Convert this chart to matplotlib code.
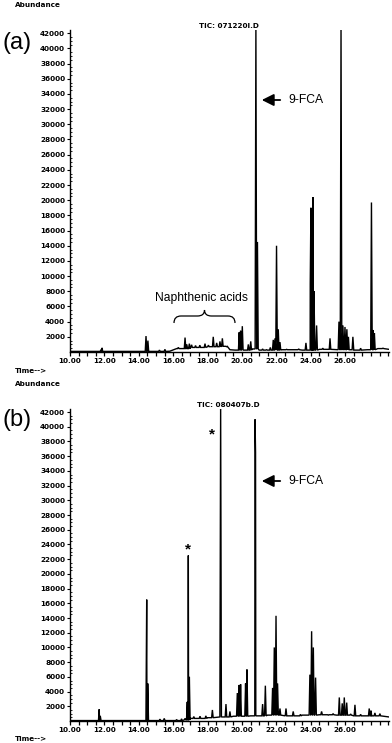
import numpy as np
import matplotlib
matplotlib.use("Agg")
import matplotlib.pyplot as plt
from matplotlib.path import Path
from matplotlib.patches import PathPatch, FancyArrowPatch

W, H = 392, 743

# ---------------- data ----------------
x_ticks = [10, 12, 14, 16, 18, 20, 22, 24, 26]
x_tick_labels = ["10.00", "12.00", "14.00", "16.00", "18.00", "20.00", "22.00", "24.00", "26.00"]
y_ticks = list(range(2000, 42001, 2000))
y_tick_labels = [str(v) for v in y_ticks]
x_min, x_max = 10.0, 28.55
y_max = 42400

# panel (a): peak apex times (min) and abundances
peaks_a_t = [11.80, 11.86, 14.42, 14.53, 15.20, 15.52,
             16.30, 16.69, 16.79, 16.94, 17.07, 17.30, 17.55, 17.85, 18.05, 18.33, 18.53,
             18.72, 18.86, 19.10, 19.84, 19.92, 20.02, 20.37, 20.51, 20.81, 20.90,
             21.20, 21.43, 21.65, 21.82, 21.92, 22.01, 22.11, 22.21, 22.60, 23.00, 23.30,
             23.72, 23.97, 24.01, 24.07, 24.13, 24.19, 24.34, 24.70, 25.12, 25.64, 25.76,
             25.87, 25.99, 26.10, 26.19, 26.45, 26.90, 27.53, 27.62, 27.70, 28.20]
peaks_a_h = [300, 550, 2100, 1500, 250, 350,
             600, 1900, 1000, 1100, 950, 850, 900, 1100, 900, 2000, 1200,
             1400, 1800, 700, 2600, 2800, 3400, 1000, 1400, 43000, 14500,
             400, 300, 600, 1600, 1800, 14000, 3000, 1300, 350, 300, 400,
             1200, 9000, 19000, 15000, 20400, 8000, 3500, 500, 1800, 4000, 43000,
             3500, 3300, 3000, 2000, 2000, 500, 19700, 2900, 2500, 500]
base_a_t = [10.0, 15.8, 16.2, 17.0, 18.0, 18.8, 19.3, 19.6, 20.6, 21.0, 22.3, 23.5,
            24.5, 25.5, 26.5, 27.3, 27.9, 28.55]
base_a_h = [80, 100, 450, 600, 700, 750, 300, 250, 400, 250, 300, 250,
            350, 300, 250, 300, 450, 350]

# panel (b)
peaks_b_t = [11.70, 11.76, 14.46, 14.52, 15.23, 15.48, 16.20, 16.49, 16.69, 16.82, 16.88, 16.94,
             17.20, 17.56, 17.90, 18.28, 18.76, 19.07, 19.30, 19.73, 19.84, 19.92,
             20.21, 20.29, 20.76, 20.79, 21.20, 21.36, 21.53, 21.67, 21.78, 21.88, 21.98,
             22.07, 22.21, 22.56, 22.98, 23.40, 23.95, 24.05, 24.15, 24.28, 24.63, 25.02,
             25.30, 25.66, 25.83, 25.95, 26.09, 26.32, 26.57, 26.90, 27.40, 27.50, 27.73, 28.02]
peaks_b_h = [1600, 700, 16500, 5100, 250, 350, 200, 300, 350, 2600, 22500, 6000,
             600, 650, 700, 1500, 43000, 2300, 1300, 3800, 4900, 5000,
             5100, 7000, 41000, 36500, 2300, 4800, 800, 800, 4500, 10000, 14300,
             5100, 1700, 1700, 1300, 900, 6300, 12200, 10000, 5900, 1300, 800,
             1000, 3200, 2400, 3200, 2500, 950, 2200, 900, 1700, 1400, 1100, 1000]
base_b_t = [10.0, 16.5, 17.0, 18.0, 18.7, 19.5, 20.5, 21.5, 22.5, 23.5, 24.5, 25.5,
            26.5, 27.5, 28.55]
base_b_h = [60, 150, 350, 450, 550, 650, 700, 800, 700, 800, 850, 800,
            700, 700, 550]


def build_trace(bt, bh, pt, ph, w=0.045):
    pts = list(zip(bt, bh))
    for t, h in zip(pt, ph):
        idx = max(i for i, k in enumerate(bt) if k <= t)
        b = bh[idx]
        pts += [(t - w, b), (t, h), (t + w, b)]
    pts.sort(key=lambda p: p[0])
    return [p[0] for p in pts], [p[1] for p in pts]


def fx(x):
    return x / W


def fy(y):
    return 1 - y / H


fig = plt.figure(figsize=(W / 100, H / 100), dpi=100)
fig.patch.set_facecolor("white")

tick_font = dict(family="DejaVu Sans", fontsize=5.2, fontweight="bold")
label_font = "Liberation Sans"


def style_axes(ax):
    ax.set_xlim(x_min, x_max)
    ax.set_ylim(0, y_max)
    for s in ["top", "right"]:
        ax.spines[s].set_visible(False)
    ax.spines["left"].set_linewidth(1.0)
    ax.spines["bottom"].set_linewidth(1.0)
    ax.set_xticks(x_ticks)
    ax.set_xticklabels(x_tick_labels, **tick_font)
    ax.set_xticks(np.arange(10, 28.51, 0.5), minor=True)
    ax.set_yticks(y_ticks)
    ax.set_yticklabels(y_tick_labels, **tick_font)
    ax.set_yticks(np.arange(0, 42001, 500), minor=True)
    ax.tick_params(axis="x", which="both", direction="out", length=3, width=0.9, pad=1.5)
    ax.tick_params(axis="y", which="major", direction="out", length=2.5, width=0.8, pad=1)
    ax.tick_params(axis="y", which="minor", direction="in", length=1.2, width=0.6)
    ax.patch.set_alpha(0)


panels = [
    dict(bottom=352, top=352 - y_max * 7.59e-3, bt=base_a_t, bh=base_a_h, pt=peaks_a_t, ph=peaks_a_h,
         label="(a)", label_y=43, abund_y=5, time_y=371, tic="TIC: 071220I.D", tic_y=25.5, arrow_y=100),
    dict(bottom=721, top=721 - y_max * 7.357e-3, bt=base_b_t, bh=base_b_h, pt=peaks_b_t, ph=peaks_b_h,
         label="(b)", label_y=420, abund_y=384, time_y=739, tic="TIC: 080407b.D", tic_y=405, arrow_y=481),
]

axes = []
for p in panels:
    ax = fig.add_axes([fx(70), fy(p["bottom"]), fx(389) - fx(70), fy(p["top"]) - fy(p["bottom"])])
    style_axes(ax)
    tx, ty = build_trace(p["bt"], p["bh"], p["pt"], p["ph"])
    ax.plot(tx, ty, color="black", lw=1.0, solid_joinstyle="miter")
    axes.append(ax)

    fig.text(fx(15), fy(p["abund_y"]), "Abundance", ha="left", va="center", **tick_font)
    fig.text(fx(15), fy(p["time_y"]), "Time-->", ha="left", va="center", **tick_font)
    fig.text(fx(2), fy(p["label_y"]), p["label"], ha="left", va="center",
             family=label_font, fontsize=17)
    fig.text(fx(228.5), fy(p["tic_y"]), p["tic"], ha="center", va="center", **tick_font)

    # 9-FCA arrow
    fig.add_artist(FancyArrowPatch(
        (fx(283), fy(p["arrow_y"])), (fx(259), fy(p["arrow_y"])),
        transform=fig.transFigure, arrowstyle="-|>,head_length=0.6,head_width=0.3",
        mutation_scale=12, color="black", lw=1.3))
    fig.text(fx(288), fy(p["arrow_y"]), "9-FCA", ha="left", va="center",
             family=label_font, fontsize=8.7)

# Naphthenic acids brace + label (panel a)
x0, x1, xm = fx(174), fx(235), fx(204.5)
yb, ymid, ytop = fy(323), fy(316), fy(310)
d = fx(7)
verts = [(x0, yb),
         (x0, ymid), (x0 + d, ymid),
         (xm - d, ymid),
         (xm, ymid), (xm, ytop),
         (xm, ymid), (xm + d, ymid),
         (x1 - d, ymid),
         (x1, ymid), (x1, yb)]
codes = [Path.MOVETO,
         Path.CURVE3, Path.CURVE3,
         Path.LINETO,
         Path.CURVE3, Path.CURVE3,
         Path.CURVE3, Path.CURVE3,
         Path.LINETO,
         Path.CURVE3, Path.CURVE3]
fig.add_artist(PathPatch(Path(verts, codes), transform=fig.transFigure,
                         fill=False, color="black", lw=0.9))
fig.text(fx(202), fy(298), "Naphthenic acids", ha="center", va="center",
         family=label_font, fontsize=8.7)

# asterisks (panel b)
fig.text(fx(212), fy(434), "*", ha="center", va="center", family=label_font,
         fontsize=11, fontweight="bold")
fig.text(fx(188), fy(549), "*", ha="center", va="center", family=label_font,
         fontsize=11, fontweight="bold")

fig.savefig("out.png", dpi=100, facecolor="white")
